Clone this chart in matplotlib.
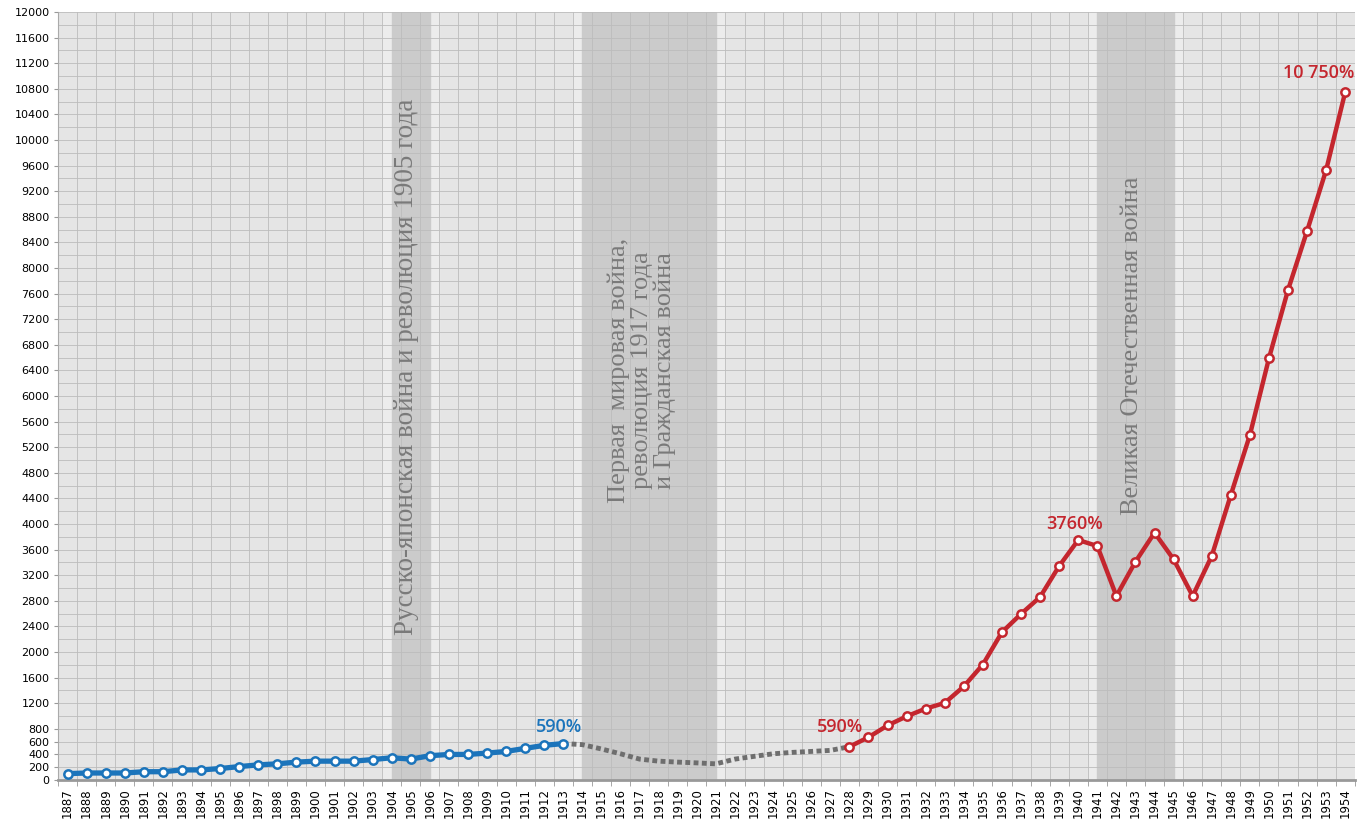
import numpy as np
import matplotlib
matplotlib.use("Agg")
import matplotlib.pyplot as plt

# годы по оси X
years = list(range(1887, 1955))

# синяя линия 1887-1913
blue_years = list(range(1887, 1914))
blue_vals = [100, 110, 110, 110, 130, 130, 158, 158, 180, 210, 237, 253, 280, 295,
             295, 295, 320, 348, 327, 380, 400, 400, 421, 447, 495, 542, 570]

# пунктир 1913-1928
gap_years = list(range(1913, 1929))
gap_vals = [570, 553, 485, 410, 327, 295, 280, 268, 253, 327, 370, 410, 432, 447, 463, 521]

# красная линия 1928-1954
red_years = list(range(1928, 1955))
red_vals = [521, 668, 853, 995, 1116, 1205, 1463, 1805, 2310, 2595, 2860, 3344, 3750,
            3656, 2875, 3411, 3864, 3448, 2875, 3500, 4453, 5390, 6589, 7656, 8578,
            9531, 10750]

# затенённые периоды (начало, конец)
bands = [(1904, 1906), (1914, 1921), (1941, 1945)]
band_texts = ["Русско-японская война и революция 1905 года",
              "Первая  мировая война,\nреволюция 1917 года\nи Гражданская война",
              "Великая Отечественная война"]

yticks = [0, 200, 400, 600, 800] + list(range(1200, 12001, 400))

blue = "#1b74bb"
red = "#c4262e"

fig = plt.figure(figsize=(13.65, 8.25), dpi=100)
ax = fig.add_axes([0.0425, 0.0545, 0.950, 0.931])
ax.set_facecolor("#e5e5e5")

x0 = years[0]
def xi(y):
    return np.asarray(y) - x0

# полосы
for (a, b) in bands:
    ax.axvspan(xi(a) - 0.5, xi(b) + 0.5, color="#ececec", zorder=0)
    ax.axvspan(xi(a), xi(b), color="#cbcbcb", zorder=0.5)

# сетка
for v in np.arange(0, 12001, 200):
    ax.axhline(v, color="#bcbcbc", lw=0.6, zorder=1)
for k in range(len(years)):
    ax.axvline(k + 0.5, color="#bcbcbc", lw=0.6, zorder=1)

# подписи полос
serif = ["Liberation Serif", "DejaVu Serif"]
ax.text(xi(1905) - 0.2, 6450, band_texts[0], rotation=90, ha="center", va="center",
        fontsize=19.5, color="#7a7a7a", family=serif, zorder=2)
ax.text(xi(1917) + 0.1, 6400, band_texts[1], rotation=90, ha="center", va="center",
        fontsize=19, color="#7a7a7a", family=serif, linespacing=1.05, zorder=2)
ax.text(xi(1943) - 0.2, 6780, band_texts[2], rotation=90, ha="center", va="center",
        fontsize=19, color="#7a7a7a", family=serif, zorder=2)

# линии
ax.plot(xi(gap_years), gap_vals, color="#6e6e6e", lw=3.5, ls=(0, (1.0, 0.7)), zorder=3)
ax.plot(xi(blue_years), blue_vals, color=blue, lw=3.8, marker="o", ms=6,
        mfc="white", mec=blue, mew=1.8, zorder=4)
ax.plot(xi(red_years), red_vals, color=red, lw=3.2, marker="o", ms=6,
        mfc="white", mec=red, mew=1.8, zorder=4)

# подписи значений
lab = dict(fontsize=13, fontweight="semibold", family=["Open Sans", "DejaVu Sans"],
           ha="center", va="bottom", zorder=5)
ax.text(xi(1913) - 0.2, 590 + 100, "590%", color=blue, **lab)
ax.text(xi(1928) - 0.5, 590 + 100, "590%", color=red, **lab)
ax.text(xi(1940) - 0.2, 3760 + 100, "3760%", color=red, **lab)
ax.text(xi(1954) - 1.4, 10750 + 150, "10 750%", color=red, **lab)

ax.set_xlim(-0.5, len(years) - 0.5)
ax.set_ylim(0, 12000)
ax.set_xticks(range(len(years)))
ax.set_xticklabels([str(y) for y in years], rotation=90, fontsize=8.5)
ax.set_xticks(np.arange(-0.5, len(years), 1), minor=True)
ax.tick_params(axis="x", which="major", length=0, pad=6)
ax.tick_params(axis="x", which="minor", length=4, color="#999999")
ax.set_yticks(yticks)
ax.set_yticklabels([str(v) for v in yticks], fontsize=8)
ax.tick_params(axis="y", length=3, color="#999999", pad=3)

for s in ["top", "right"]:
    ax.spines[s].set_visible(False)
ax.spines["left"].set_color("#aaaaaa")
ax.spines["bottom"].set_color("#999999")
ax.spines["bottom"].set_linewidth(2)

fig.savefig("out.png", dpi=100, facecolor="white")
